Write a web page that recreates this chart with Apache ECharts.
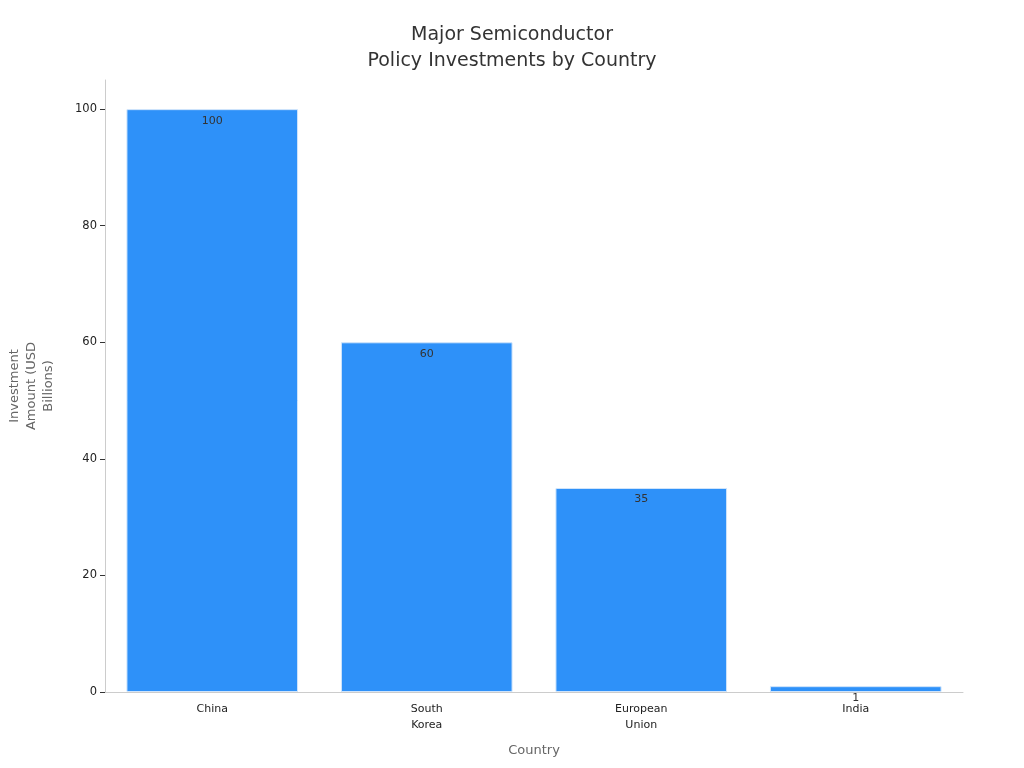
<!DOCTYPE html>
<html>
<head>
<meta charset="utf-8">
<script src="https://cdn.jsdelivr.net/npm/echarts@6/dist/echarts.min.js"></script>
<style>
  html, body { margin: 0; padding: 0; background: #fff; }
  #chart { width: 1024px; height: 768px; }
</style>
</head>
<body>
<div id="chart"></div>
<script>
var countries = ['China', 'South\nKorea', 'European\nUnion', 'India'];
var investments = [100, 60, 35, 1];
var yTicks = [0, 20, 40, 60, 80, 100];

var myChart = echarts.init(document.getElementById('chart'));
var option = {
  animation: false,
  textStyle: { fontFamily: 'DejaVu Sans' },
  title: {
    text: 'Major Semiconductor\nPolicy Investments by Country',
    left: 'center',
    top: 17,
    textStyle: { fontSize: 19, fontWeight: 'normal', color: '#333', lineHeight: 26, fontFamily: 'DejaVu Sans' }
  },
  grid: { left: 105, right: 61, top: 80, bottom: 76, containLabel: false, outerBoundsMode: 'none' },
  xAxis: {
    type: 'category',
    data: countries,
    name: 'Country',
    nameLocation: 'middle',
    nameGap: 52,
    nameTextStyle: { fontSize: 13, color: '#666' },
    axisLine: { lineStyle: { color: '#ccc' } },
    axisTick: { alignWithLabel: true, length: 5, lineStyle: { color: '#333' } },
    axisLabel: { fontSize: 11, color: '#222', lineHeight: 16, margin: 9 }
  },
  yAxis: {
    type: 'value',
    min: 0,
    max: 105,
    interval: 20,
    name: 'Investment\nAmount (USD\nBillions)',
    nameLocation: 'middle',
    nameGap: 48,
    nameRotate: 90,
    nameTextStyle: { fontSize: 13, color: '#666', lineHeight: 17 },
    axisLine: { show: true, lineStyle: { color: '#ccc' } },
    axisTick: { show: true, length: 5, lineStyle: { color: '#333' }, customValues: yTicks },
    splitLine: { show: false },
    axisLabel: { fontSize: 11.5, color: '#222', margin: 8, customValues: yTicks }
  },
  series: [{
    type: 'bar',
    data: investments,
    barCategoryGap: '20%',
    itemStyle: { color: '#2E91F9', borderColor: '#cfe4fb', borderWidth: 1 },
    label: {
      show: true,
      position: 'insideTop',
      distance: 6,
      fontSize: 11,
      color: '#333'
    }
  }]
};
myChart.setOption(option);
</script>
</body>
</html>
